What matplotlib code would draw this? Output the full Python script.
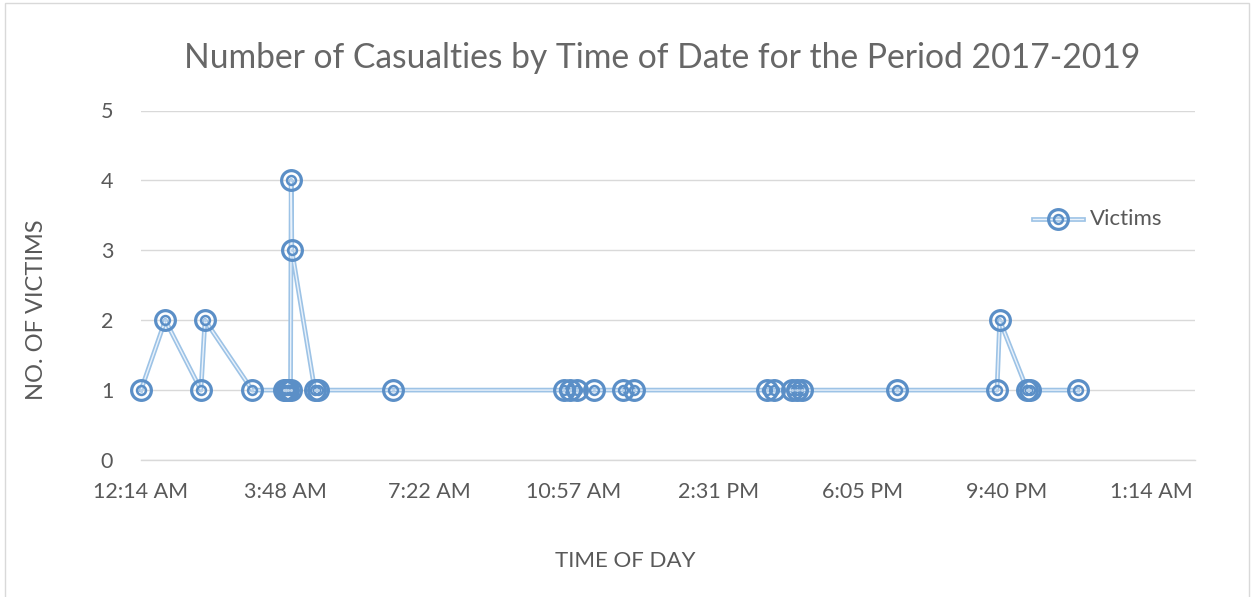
import matplotlib
matplotlib.use("Agg")
import matplotlib.pyplot as plt
from matplotlib.patches import Rectangle
from matplotlib.lines import Line2D

# ---- data ----
times = ["00:14", "00:50", "01:43", "01:49", "02:59", "03:46", "03:49", "03:52",
         "03:56", "03:57", "03:58", "04:32", "04:37", "06:28", "10:42", "10:51",
         "11:01", "11:27", "12:10", "12:26", "15:43", "15:54", "16:21", "16:28",
         "16:35", "18:56", "21:25", "21:29", "22:10", "22:14", "23:25"]
victims = [1, 2, 1, 2, 1, 1, 1, 1, 1, 4, 3, 1, 1, 1, 1, 1,
           1, 1, 1, 1, 1, 1, 1, 1, 1, 1, 1, 2, 1, 1, 1]
tick_labels = ["12:14 AM", "3:48 AM", "7:22 AM", "10:57 AM", "2:31 PM",
               "6:05 PM", "9:40 PM", "1:14 AM"]
y_ticks = [0, 1, 2, 3, 4, 5]
title = "Number of Casualties by Time of Date for the Period 2017-2019"
series_name = "Victims"

def to_min(s):
    h, m = s.split(":")
    return int(h) * 60 + int(m)

x = [to_min(t) for t in times]
x_min = 14
step = 1500 / 7
x_ticks = [x_min + k * step for k in range(len(tick_labels))]

plt.rcParams['font.family'] = ['Lato', 'DejaVu Sans']
TXT = '#595959'
LINE_C = '#9DC3E6'
MARK_C = '#5B8FC7'

W, H, DPI = 1252, 597, 100
fig = plt.figure(figsize=(W / DPI, H / DPI), dpi=DPI)
fig.patches.append(Rectangle((5 / W, -0.01), (1249 - 5) / W, 1 - 3 / H + 0.01,
                             transform=fig.transFigure, fill=False,
                             edgecolor='#d9d9d9', lw=1))

ax = fig.add_axes([141 / W, 1 - 460 / H, (1195 - 141) / W, (460 - 110.5) / H])
ax.set_xlim(x_min, x_min + (1195 - 141) / 0.6735)
ax.set_ylim(0, 5)

for sp in ['top', 'right', 'left']:
    ax.spines[sp].set_visible(False)
ax.spines['bottom'].set_color('#d9d9d9')
ax.spines['bottom'].set_linewidth(1)
ax.set_yticks(y_ticks)
ax.yaxis.grid(True, color='#d9d9d9', lw=1)
ax.set_axisbelow(True)
ax.set_xticks(x_ticks)
ax.set_xticklabels(tick_labels)
ax.tick_params(axis='both', length=0, labelsize=15.5, colors=TXT)
ax.tick_params(axis='y', pad=20)
ax.tick_params(axis='x', pad=16)

def draw_series(axh, xs, ys):
    kw = dict(clip_on=False)
    axh.plot(xs, ys, color=LINE_C, lw=3.4, solid_joinstyle='round', zorder=3, **kw)
    axh.plot(xs, ys, color='#eaf2fb', lw=1.0, solid_joinstyle='round', zorder=3, **kw)
    axh.plot(xs, ys, ls='none', marker='o', ms=14.2, mfc='none', mec=MARK_C, mew=2.3, zorder=4, **kw)
    axh.plot(xs, ys, ls='none', marker='o', ms=6.4, mfc='none', mec=MARK_C, mew=1.8, zorder=4, **kw)
    axh.plot(xs, ys, ls='none', marker='o', ms=2.2, mfc='#b7cfe8', mec='none', zorder=4, **kw)

draw_series(ax, x, victims)

fig.text(625 / W, 1 - 561 / H, "TIME OF DAY", ha='center', va='center',
         fontsize=16, color=TXT)
fig.text(37 / W, 1 - 310 / H, "NO. OF VICTIMS", ha='center', va='center',
         fontsize=17, color=TXT, rotation=90)

fig.text(662 / W, 1 - 58 / H, title, ha='center', va='center', fontsize=24.2,
         color='#676767')

# legend (manual, inside figure)
lx0, lx1, ly = 1033 / W, 1083 / W, 1 - 219 / H
for lw_, c in [(3.4, LINE_C), (1.0, '#eaf2fb')]:
    fig.add_artist(Line2D([lx0, lx1], [ly, ly], color=c, lw=lw_, transform=fig.transFigure))
for ms, mew in [(14.2, 2.3), (6.4, 1.8)]:
    fig.add_artist(Line2D([(lx0 + lx1) / 2], [ly], ls='none', marker='o', ms=ms, mfc='none',
                          mec=MARK_C, mew=mew, transform=fig.transFigure))
fig.text(1090 / W, ly, series_name, ha='left', va='center', fontsize=16, color=TXT)

fig.savefig("out.png", dpi=DPI, facecolor='white')
